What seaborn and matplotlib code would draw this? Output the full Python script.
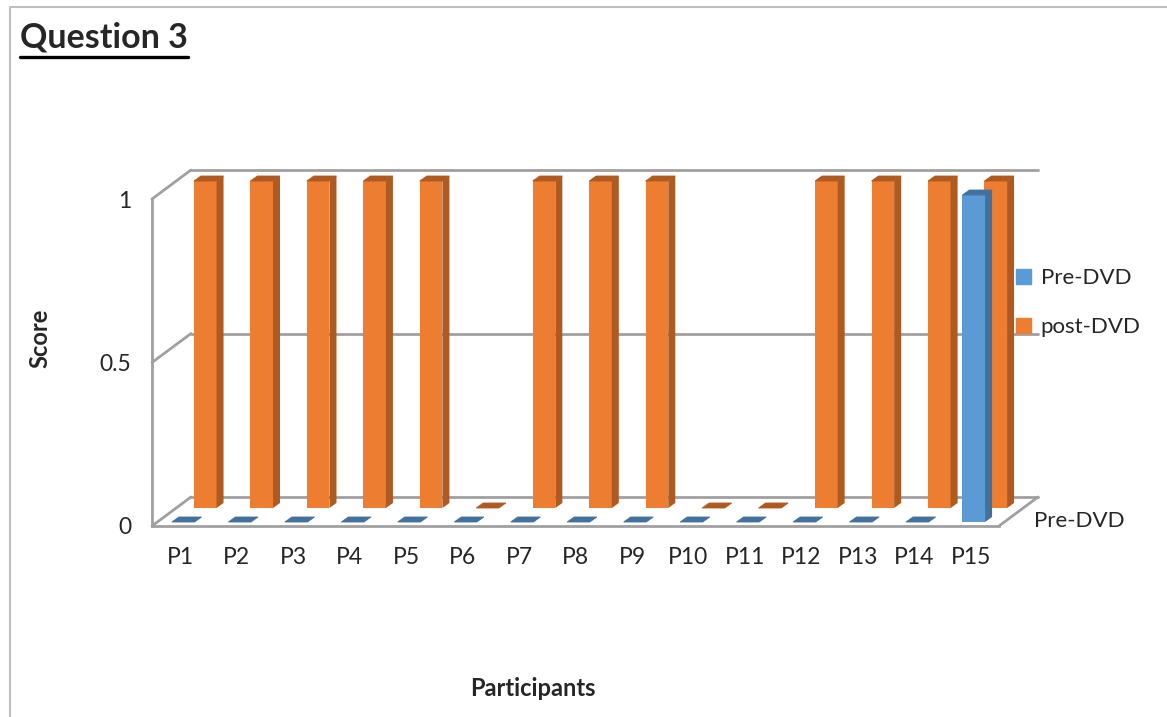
import numpy as np
import pandas as pd
import matplotlib
matplotlib.use("Agg")
import matplotlib.pyplot as plt
import matplotlib.transforms as mtrans
from matplotlib.patches import Polygon, Patch
from matplotlib.lines import Line2D
import seaborn as sns

# data
participants = [f"P{i}" for i in range(1, 16)]
pre_dvd = [0, 0, 0, 0, 0, 0, 0, 0, 0, 0, 0, 0, 0, 0, 1]
post_dvd = [1, 1, 1, 1, 1, 0, 1, 1, 1, 0, 0, 1, 1, 1, 1]
y_ticks = [0, 0.5, 1]
y_ticklabels = ["0", "0.5", "1"]

blue, blue_dark = "#5B9BD5", "#41719C"
orange, orange_dark = "#ED7D31", "#AE5A21"
grid_col = "#A0A0A0"

sns.set_style("white")
plt.rcParams['font.family'] = ['Lato', 'DejaVu Sans']

W, H = 1167, 717
fig = plt.figure(figsize=(W / 100, H / 100), dpi=100)


def box(x0, y0, x1, y1):
    # image pixel box -> figure fraction rect
    return [x0 / W, 1 - y1 / H, (x1 - x0) / W, (y1 - y0) / H]


ax = fig.add_axes(box(152, 199, 999, 526))
df = pd.DataFrame({"participant": participants, "pre": pre_dvd, "post": post_dvd})

# back row (post-DVD) then front row (pre-DVD)
sns.barplot(data=df, x="participant", y="post", color=orange, saturation=1,
            width=0.4, ax=ax, zorder=2, linewidth=0)
n_post = len(ax.patches)
sns.barplot(data=df, x="participant", y="pre", color=blue, saturation=1,
            width=0.4, ax=ax, zorder=3, linewidth=0)
post_bars = ax.patches[:n_post]
pre_bars = ax.patches[n_post:]

ax.set_xlim(-0.5, 14.5)
ax.set_ylim(0, 1)

# depth shifts in pixels
back_row = mtrans.offset_copy(ax.transData, fig=fig, x=25, y=18, units='dots')
front_row = mtrans.offset_copy(ax.transData, fig=fig, x=3, y=4, units='dots')
back_wall = mtrans.offset_copy(ax.transData, fig=fig, x=39, y=29, units='dots')
for p in post_bars:
    p.set_transform(back_row)
    p.set_clip_on(False)
for p in pre_bars:
    p.set_transform(front_row)
    p.set_clip_on(False)

# side and top faces of the 3d columns
dd, dh = 7, 5
ident = mtrans.IdentityTransform()
for bars, dark, z in [(post_bars, orange_dark, 2.1), (pre_bars, blue_dark, 3.1)]:
    for p in bars:
        v = p.get_verts()
        x0, x1 = v[:, 0].min(), v[:, 0].max()
        y0, y1 = v[:, 1].min(), v[:, 1].max()
        side = [(x1, y0), (x1 + dd, y0 + dh), (x1 + dd, y1 + dh), (x1, y1)]
        top = [(x0, y1), (x1, y1), (x1 + dd, y1 + dh), (x0 + dd, y1 + dh)]
        ax.add_patch(Polygon(side, closed=True, facecolor=dark, edgecolor="none",
                             transform=ident, clip_on=False, zorder=z))
        ax.add_patch(Polygon(top, closed=True, facecolor=dark, edgecolor=dark,
                             lw=0.6, transform=ident, clip_on=False, zorder=z))

# back wall gridlines and side wall diagonals
for yv in y_ticks:
    ax.plot([-0.5, 14.5], [yv, yv], transform=back_wall, color=grid_col, lw=2,
            zorder=1, clip_on=False)
    a = ax.transData.transform((-0.5, yv))
    b = back_wall.transform((-0.5, yv))
    ax.add_line(Line2D([a[0], b[0]], [a[1], b[1]], transform=ident, color=grid_col,
                       lw=2, zorder=1, clip_on=False))
a = ax.transData.transform((14.5, 0))
b = back_wall.transform((14.5, 0))
ax.add_line(Line2D([a[0], b[0]], [a[1], b[1]], transform=ident, color=grid_col,
                   lw=2, zorder=1, clip_on=False))

# axes styling
for s in ["top", "right"]:
    ax.spines[s].set_visible(False)
for s in ["left", "bottom"]:
    ax.spines[s].set_color(grid_col)
    ax.spines[s].set_linewidth(2)
    ax.spines[s].set_zorder(4)
ax.set_xticks(range(len(participants)))
ax.set_xticklabels(participants)
ax.set_xticks(np.arange(-0.5, 15, 1), minor=True)
ax.tick_params(axis="x", which="major", length=0, pad=15, labelsize=16.5)
ax.tick_params(axis="x", which="minor", length=5, width=1.5, color=grid_col)
ax.set_yticks(y_ticks)
ax.set_yticklabels(y_ticklabels)
ax.tick_params(axis="y", length=6, width=1.5, color=grid_col, pad=9, labelsize=16.5)
ax.set_xlabel("")
ax.set_ylabel("")
ax.patch.set_visible(False)

# legend and depth axis label
handles = [Patch(color=blue), Patch(color=orange)]
ax.legend(handles, ["Pre-DVD", "post-DVD"], loc="upper left",
          bbox_to_anchor=(1005 / W, 1 - 257 / H), bbox_transform=fig.transFigure,
          frameon=False, fontsize=16, handlelength=0.65, handleheight=0.65,
          handletextpad=0.45, labelspacing=1.3, borderpad=0)
fig.text(1034 / W, 1 - 521 / H, "Pre-DVD", fontsize=16, va="center", ha="left")

# titles
fig.text(40 / W, 1 - 338 / H, "Score", fontsize=17, fontweight="bold",
         rotation=90, ha="center", va="center")
fig.text(533 / W, 1 - 688 / H, "Participants", fontsize=17, fontweight="bold",
         ha="center", va="center")
title = fig.text(20 / W, 1 - 37 / H, "Question 3", fontsize=24.5, fontweight="bold",
                 ha="left", va="center")
fig.canvas.draw()
bb = title.get_window_extent()
fig.add_artist(Line2D([bb.x0 / W, bb.x1 / W], [1 - 57 / H] * 2, color="black", lw=2.4))

# chart border
fig.add_artist(Line2D([10 / W, 10 / W, 1], [0, 1 - 7 / H, 1 - 7 / H],
                      color="#BFBFBF", lw=1.5))

fig.savefig("out.png", dpi=100)
